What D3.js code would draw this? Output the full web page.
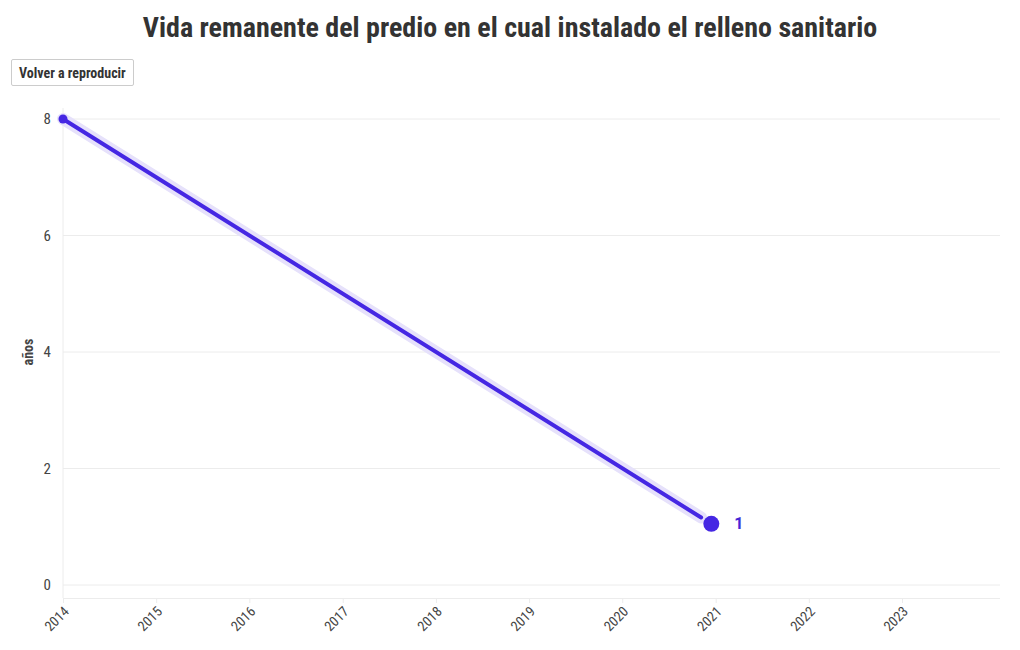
<!DOCTYPE html>
<html>
<head>
<meta charset="utf-8">
<script src="https://cdn.jsdelivr.net/npm/d3@7"></script>
<style>
  body { margin: 0; background: #fff; font-family: "Roboto Condensed", "Liberation Sans Narrow", "DejaVu Sans Condensed", Roboto, sans-serif; }
  #wrap { position: relative; width: 1020px; height: 650px; }
  button { position: absolute; left: 11px; top: 59px; height: 27px; padding: 0 7px; background: #fff; border: 1px solid #ccc; border-radius: 2px; font-family: inherit; font-weight: bold; font-size: 14px; color: #333; }
  svg { position: absolute; left: 0; top: 0; }
</style>
</head>
<body>
<div id="wrap">
<button>Volver a reproducir</button>
<svg id="chart" width="1020" height="650"></svg>
</div>
<script>
const dates = ["2014-01-01", "2020-12-15"];
const values = [8, 1.05];
const labels = ["", "1"];
const yTicks = [0, 2, 4, 6, 8];
const xTickYears = [2014, 2015, 2016, 2017, 2018, 2019, 2020, 2021, 2022, 2023];
const title = "Vida remanente del predio en el cual instalado el relleno sanitario";
const yLabel = "años";

const parse = d3.timeParse("%Y-%m-%d");
const data = dates.map((d, i) => ({ date: parse(d), value: values[i], label: labels[i] }));

const svg = d3.select("#chart");
const font = '"Roboto Condensed", "Liberation Sans Narrow", "DejaVu Sans Condensed", Roboto, sans-serif';

const x = d3.scaleTime()
  .domain([new Date(2014, 0, 1), new Date(2024, 0, 20)])
  .range([63, 1000]);
const y = d3.scaleLinear().domain([0, 8]).range([585, 119]);

svg.append("text").attr("x", 510).attr("y", 37).attr("text-anchor", "middle")
  .attr("font-family", font).attr("font-weight", "bold").attr("font-size", 28)
  .attr("fill", "#333").text(title);

// grid
svg.append("g").selectAll("line").data(yTicks).join("line")
  .attr("x1", 63).attr("x2", 1000).attr("y1", d => y(d)).attr("y2", d => y(d))
  .attr("stroke", "#ececec").attr("stroke-width", 1);
svg.append("line").attr("x1", 63).attr("x2", 63).attr("y1", 108).attr("y2", 598)
  .attr("stroke", "#ececec");

// y axis labels
svg.append("g").selectAll("text").data(yTicks).join("text")
  .attr("x", 51).attr("y", d => y(d)).attr("dy", "0.35em").attr("text-anchor", "end")
  .attr("font-family", font).attr("font-size", 15).attr("fill", "#444").text(d => d);

svg.append("text").attr("transform", "translate(33,352) rotate(-90)").attr("text-anchor", "middle")
  .attr("font-family", font).attr("font-weight", "bold").attr("font-size", 14).attr("fill", "#444").text(yLabel);

// x axis
const xAxis = d3.axisBottom(x).tickValues(xTickYears.map(yy => new Date(yy, 0, 1)))
  .tickFormat(d3.timeFormat("%Y")).tickSize(5).tickSizeOuter(0);
const gx = svg.append("g").attr("transform", "translate(0,598)").call(xAxis);
gx.select(".domain").attr("stroke", "#ececec").attr("d", "M63,0.5H1000");
gx.selectAll(".tick line").attr("stroke", "#ececec");
gx.selectAll(".tick text").attr("font-family", font).attr("font-size", 14).attr("fill", "#444")
  .attr("text-anchor", "end").attr("x", 0).attr("y", 0).attr("dy", "0.35em")
  .attr("transform", "translate(3,11) rotate(-45)");

// line
const last = data[data.length - 1];
const prev = data[data.length - 2];
const ex = x(last.date), ey = y(last.value), sx = x(prev.date), sy = y(prev.value);
const len = Math.hypot(ex - sx, ey - sy), cut = 12;
const lineData = [[sx, sy], [ex - (ex - sx) * cut / len, ey - (ey - sy) * cut / len]];
svg.append("path").attr("d", d3.line()(lineData)).attr("fill", "none")
  .attr("stroke", "#e6e1fb").attr("stroke-width", 12).attr("stroke-linecap", "round");
svg.append("path").attr("d", d3.line()(lineData)).attr("fill", "none")
  .attr("stroke", "#4527e3").attr("stroke-width", 4).attr("stroke-linecap", "round");

svg.append("circle").attr("cx", sx).attr("cy", sy).attr("r", 4.5).attr("fill", "#4527e3");
svg.append("circle").attr("cx", ex).attr("cy", ey).attr("r", 8).attr("fill", "#4527e3");
svg.append("text").attr("x", ex + 23).attr("y", ey).attr("dy", "0.35em")
  .attr("font-family", "Roboto, sans-serif").attr("font-weight", "bold").attr("font-size", 16)
  .attr("fill", "#4527d6").text(last.label);
</script>
</body>
</html>
